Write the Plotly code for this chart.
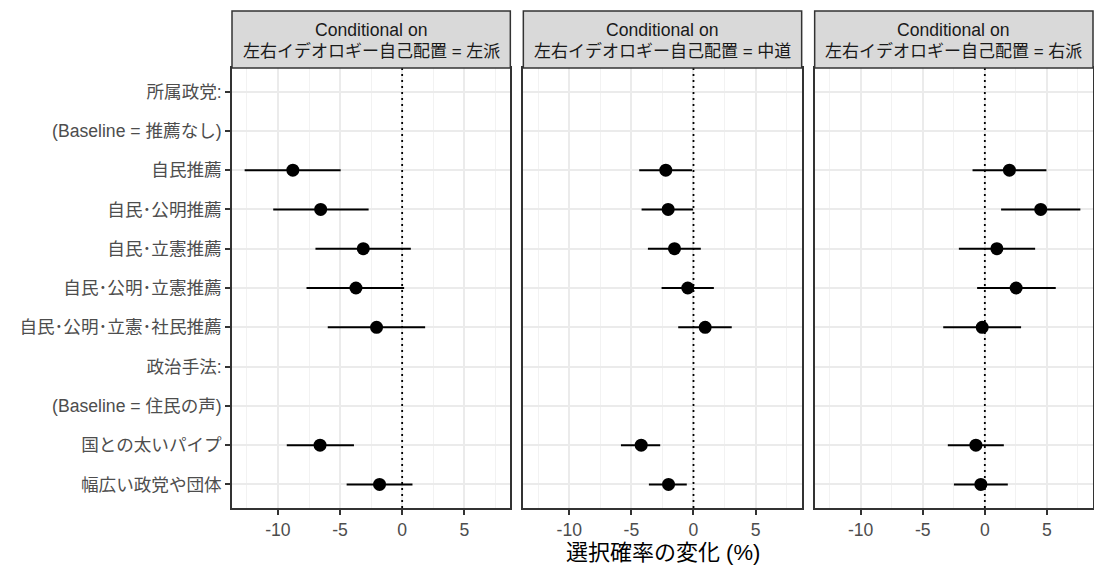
import plotly.graph_objects as go

# ---------------- data ----------------
categories = [
    "所属政党:",
    "(Baseline = 推薦なし)",
    "自民推薦",
    "自民･公明推薦",
    "自民･立憲推薦",
    "自民･公明･立憲推薦",
    "自民･公明･立憲･社民推薦",
    "政治手法:",
    "(Baseline = 住民の声)",
    "国との太いパイプ",
    "幅広い政党や団体",
]
panel_labels = ["左派", "中道", "右派"]

est_left = [None, None, -8.80, -6.56, -3.13, -3.72, -2.06, None, None, -6.61, -1.82]
lo_left = [None, None, -12.68, -10.38, -6.98, -7.70, -5.99, None, None, -9.29, -4.47]
hi_left = [None, None, -4.95, -2.70, 0.70, 0.16, 1.85, None, None, -3.88, 0.83]

est_center = [None, None, -2.23, -2.04, -1.53, -0.46, 0.94, None, None, -4.21, -2.01]
lo_center = [None, None, -4.37, -4.18, -3.67, -2.57, -1.23, None, None, -5.84, -3.59]
hi_center = [None, None, -0.11, -0.03, 0.59, 1.64, 3.08, None, None, -2.68, -0.54]

est_right = [None, None, 1.98, 4.50, 0.97, 2.52, -0.21, None, None, -0.72, -0.32]
lo_right = [None, None, -0.99, 1.31, -2.09, -0.62, -3.35, None, None, -2.98, -2.49]
hi_right = [None, None, 4.96, 7.69, 4.05, 5.71, 2.92, None, None, 1.53, 1.85]

panels = [
    (est_left, lo_left, hi_left),
    (est_center, lo_center, hi_center),
    (est_right, lo_right, hi_right),
]

x_ticks = [-10, -5, 0, 5]
x_title = "選択確率の変化 (%)"

# ---------------- styling ----------------
W, H = 1094, 567
ML, MR, MT, MB = 232, 1, 68, 59
plot_w = W - ML - MR
plot_h = H - MT - MB
gap = 13
pw = (plot_w - 2 * gap) / 3
domains = [[(i * (pw + gap)) / plot_w, min(1.0, (i * (pw + gap) + pw) / plot_w)] for i in range(3)]

FONT = "Liberation Sans, Arial, Noto Sans CJK JP, sans-serif"
TICK_SIZE = 17.6
GRID = "#EBEBEB"
BORDER = "#333333"

# x range like ggplot (5% expansion of data range)
all_vals = [v for p in panels for arr in p for v in arr if v is not None]
vmin, vmax = min(all_vals), max(all_vals)
pad = 0.05 * (vmax - vmin)
x_range = [vmin - pad, vmax + pad]
y_range = [len(categories) - 0.4, -0.6]

fig = go.Figure()

for i, (est, lo, hi) in enumerate(panels):
    xa = "x" if i == 0 else f"x{i+1}"
    ya = "y" if i == 0 else f"y{i+1}"
    lx, ly = [], []
    for c, l, h in zip(categories, lo, hi):
        if l is None:
            continue
        lx += [l, h, None]
        ly += [c, c, None]
    fig.add_trace(go.Scatter(
        x=lx, y=ly, mode="lines", line=dict(color="black", width=2),
        xaxis=xa, yaxis=ya, showlegend=False, hoverinfo="skip"))
    fig.add_trace(go.Scatter(
        x=est, y=categories, mode="markers",
        marker=dict(color="black", size=13, line=dict(width=0)),
        xaxis=xa, yaxis=ya, showlegend=False))

layout = dict(
    width=W, height=H,
    margin=dict(l=ML, r=MR, t=MT, b=MB, autoexpand=False),
    paper_bgcolor="white", plot_bgcolor="white",
    font=dict(family=FONT, color="#4D4D4D", size=TICK_SIZE),
    showlegend=False,
)

shapes = []
annotations = []
for i in range(3):
    sx = "" if i == 0 else str(i + 1)
    layout[f"xaxis{sx}"] = dict(
        domain=domains[i], range=x_range, anchor=f"y{sx}",
        tickmode="array", tickvals=x_ticks, ticktext=[str(t) for t in x_ticks],
        showgrid=True, gridcolor=GRID, gridwidth=2,
        minor=dict(showgrid=True, gridcolor="#F2F2F2", gridwidth=1, dtick=2.5, tick0=0),
        zeroline=False,
        showline=True, linecolor=BORDER, linewidth=1.5, mirror=True,
        ticks="outside", ticklen=5, tickwidth=1.5, tickcolor=BORDER,
        tickfont=dict(size=TICK_SIZE, color="#4D4D4D", family=FONT),
        fixedrange=True,
    )
    layout[f"yaxis{sx}"] = dict(
        domain=[0, 1], anchor=f"x{sx}",
        type="category", categoryorder="array", categoryarray=categories,
        range=y_range,
        showgrid=True, gridcolor=GRID, gridwidth=2,
        zeroline=False,
        showline=True, linecolor=BORDER, linewidth=1.5, mirror=True,
        ticks="outside" if i == 0 else "", ticklen=5, tickwidth=1.5, tickcolor=BORDER,
        showticklabels=(i == 0),
        tickfont=dict(size=TICK_SIZE, color="#4D4D4D", family=FONT),
        automargin=False, fixedrange=True,
    )

    # dotted zero reference line (between grid and data)
    shapes.append(dict(
        type="line", xref=f"x{sx}", yref=f"y{sx}",
        x0=0, x1=0, y0=y_range[0], y1=y_range[1], layer="between",
        line=dict(color="black", width=1.8, dash="2px,4px")))
    # facet strip
    x0p, x1p = domains[i]
    shapes.append(dict(
        type="rect", xref="paper", yref="paper",
        x0=x0p, x1=x1p, y0=1.0, y1=1 + 57 / plot_h,
        fillcolor="#D9D9D9", line=dict(color=BORDER, width=1.5), layer="above"))
    xc = (x0p + x1p) / 2
    annotations.append(dict(
        xref="paper", yref="paper", x=xc, y=1 + 38 / plot_h,
        text="Conditional on", showarrow=False, xanchor="center", yanchor="middle",
        font=dict(size=TICK_SIZE, color="#1A1A1A", family=FONT)))
    annotations.append(dict(
        xref="paper", yref="paper", x=xc, y=1 + 17 / plot_h,
        text=f"左右イデオロギー自己配置 = {panel_labels[i]}", showarrow=False,
        xanchor="center", yanchor="middle",
        font=dict(size=17, color="#1A1A1A", family=FONT)))

annotations.append(dict(
    xref="paper", yref="paper", x=sum(domains[1]) / 2, y=-44 / plot_h,
    text=x_title, showarrow=False, xanchor="center", yanchor="middle",
    font=dict(size=22, color="black", family=FONT)))

layout["shapes"] = shapes
layout["annotations"] = annotations
fig.update_layout(**layout)

fig.write_html(
    "out.html",
    config={"displayModeBar": False},
    post_script="document.body.style.margin='0';document.body.style.overflow='hidden';",
)
